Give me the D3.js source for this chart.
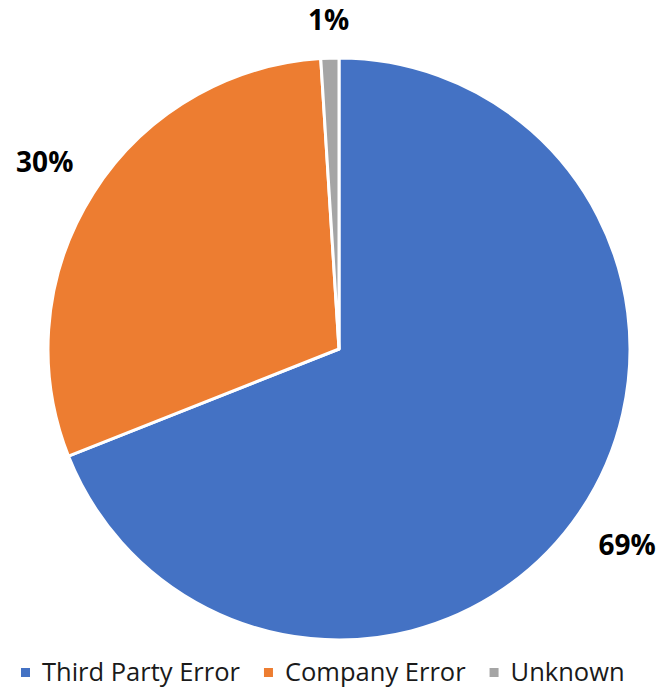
<!DOCTYPE html>
<html>
<head>
<meta charset="utf-8">
<script src="https://cdn.jsdelivr.net/npm/d3@7"></script>
<style>
  html, body { margin: 0; padding: 0; background: #fff; }
  svg { display: block; }
</style>
</head>
<body>
<svg id="chart" width="662" height="689"></svg>
<script>
// Share of errors by source (percent)
const categories = ["Third Party Error", "Company Error", "Unknown"];
const values = [69, 30, 1];
const valueLabels = ["69%", "30%", "1%"];
const colors = ["#4472C4", "#ED7D31", "#A5A5A5"];

const svg = d3.select("#chart");
const cx = 339, cy = 349, radius = 291;
const font = "'Open Sans', 'DejaVu Sans', sans-serif";

const pie = d3.pie().sort(null).value(d => d)(values);
const arc = d3.arc().innerRadius(0).outerRadius(radius);

const g = svg.append("g").attr("transform", `translate(${cx},${cy})`);

g.selectAll("path.slice")
  .data(pie)
  .join("path")
  .attr("class", "slice")
  .attr("d", arc)
  .attr("fill", (d, i) => colors[i])
  .attr("stroke", "#fff")
  .attr("stroke-width", 3)
  .attr("stroke-linejoin", "round");

// Data labels: the label box sits just outside the rim along the slice's mid-angle
const pad = 28, digitH = 20;
g.selectAll("text.value")
  .data(pie)
  .join("text")
  .attr("class", "value")
  .attr("text-anchor", "middle")
  .attr("font-family", font)
  .attr("font-weight", 700)
  .attr("font-size", 28)
  .attr("fill", "#000")
  .text((d, i) => valueLabels[i])
  .each(function (d) {
    const a = (d.startAngle + d.endAngle) / 2;
    const s = Math.sin(a), c = Math.cos(a);
    const w = this.getComputedTextLength();
    const dist = radius + pad + Math.abs(s) * w / 2 + Math.abs(c) * digitH / 2;
    const x = s * dist, y = -c * dist;
    d3.select(this).attr("x", x).attr("y", y + digitH / 2);
  });

// Legend along the bottom
const legend = svg.append("g").attr("transform", "translate(21,681)");
let xOff = 0;
categories.forEach((c, i) => {
  const item = legend.append("g").attr("transform", `translate(${xOff},0)`);
  item.append("rect")
    .attr("x", 0).attr("y", -13)
    .attr("width", 9).attr("height", 9)
    .attr("fill", colors[i]);
  const t = item.append("text")
    .attr("x", 21).attr("y", 0)
    .attr("font-family", font)
    .attr("font-size", 25.5)
    .attr("fill", "#1a1a1a")
    .text(c);
  xOff += 21 + t.node().getComputedTextLength() + 24;
});
</script>
</body>
</html>
